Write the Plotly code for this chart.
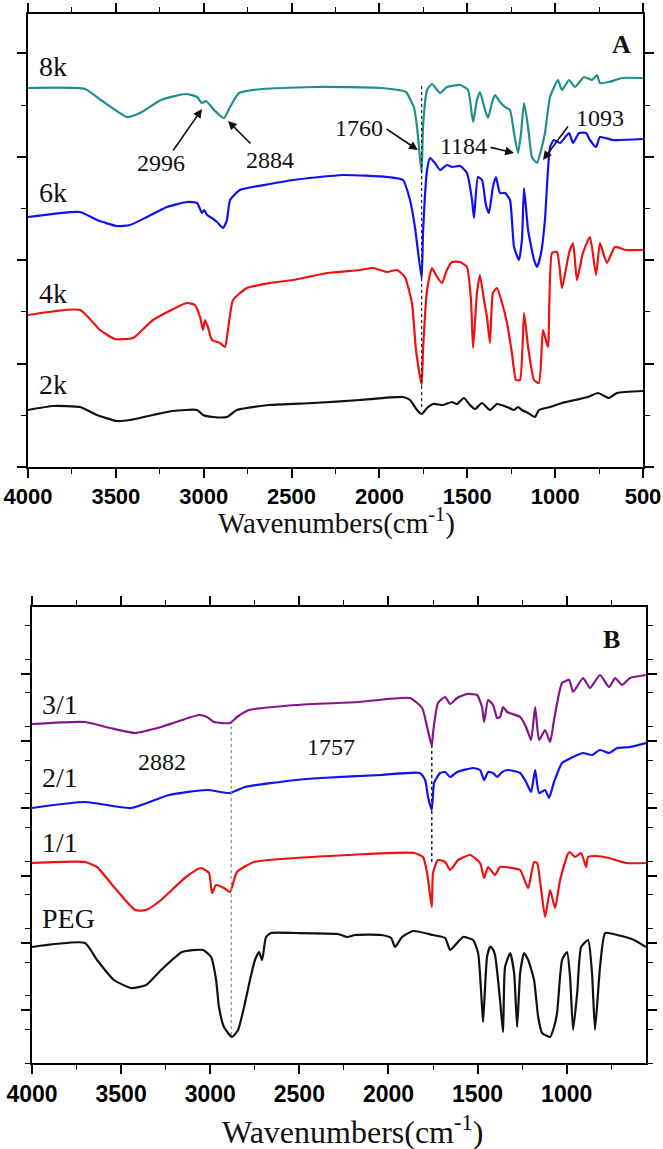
import plotly.graph_objects as go

# ---------------- Panel A (PEG molecular weight series) ----------------
wn_8k = [4000, 3676, 3585, 3437, 3363, 3243, 3101, 3038, 3010, 2987, 2941, 2885, 2850, 2799, 2668,
         2355, 1991, 1849, 1815, 1804, 1786, 1760, 1752, 1729, 1701, 1655, 1616, 1541, 1496, 1467,
         1445, 1428, 1399, 1382, 1360, 1342, 1314, 1285, 1257, 1234, 1211, 1194, 1177, 1154, 1132,
         1103, 1080, 1058, 1029, 984, 961, 921, 887, 836, 790, 762, 745, 694, 620, 500]
t_8k = [379, 378, 367, 350, 354, 367, 373, 370, 364, 366, 357, 349, 360, 374, 378,
        380, 379, 375, 364, 360, 340, 294, 340, 377, 383, 374, 380, 382, 377, 345,
        367, 375, 357, 349, 364, 372, 365, 360, 357, 334, 314, 334, 364, 340, 310,
        304, 317, 334, 370, 387, 377, 387, 380, 390, 387, 392, 384, 385, 389, 389]

wn_6k = [4000, 3704, 3607, 3494, 3420, 3323, 3209, 3095, 3038, 3010, 2998, 2981, 2953, 2924, 2890,
         2868, 2850, 2794, 2623, 2492, 2207, 1957, 1866, 1826, 1798, 1760, 1752, 1729, 1712, 1684,
         1655, 1616, 1587, 1541, 1502, 1473, 1462, 1439, 1416, 1394, 1377, 1354, 1337, 1314, 1285,
         1257, 1234, 1206, 1189, 1177, 1154, 1120, 1103, 1080, 1058, 1029, 1007, 972, 921, 898,
         864, 824, 802, 767, 745, 671, 500]
t_6k = [250, 255, 247, 241, 242, 250, 260, 265, 264, 254, 257, 252, 249, 245, 239,
        247, 267, 277, 283, 287, 292, 290, 287, 267, 240, 189, 234, 297, 309, 304,
        297, 302, 300, 301, 294, 267, 249, 290, 287, 262, 254, 280, 290, 274, 274,
        267, 220, 207, 227, 279, 237, 207, 200, 214, 247, 320, 327, 324, 334, 324,
        334, 334, 327, 320, 330, 327, 328]

wn_4k = [4000, 3704, 3590, 3505, 3402, 3289, 3095, 3050, 3021, 3004, 2993, 2976, 2953, 2907, 2879,
         2862, 2833, 2754, 2623, 2492, 2298, 2111, 2037, 1957, 1900, 1855, 1815, 1792, 1760, 1752,
         1729, 1701, 1672, 1644, 1616, 1587, 1541, 1502, 1479, 1467, 1445, 1428, 1405, 1388, 1371,
         1354, 1331, 1302, 1274, 1246, 1223, 1200, 1177, 1154, 1120, 1092, 1069, 1041, 1018, 989,
         961, 921, 898, 876, 842, 802, 767, 745, 705, 660, 597, 500]
t_4k = [152, 157, 137, 128, 129, 147, 164, 162, 150, 137, 147, 140, 127, 124, 120,
        137, 167, 179, 184, 187, 194, 197, 199, 195, 197, 190, 164, 117, 82, 117,
        177, 199, 190, 184, 197, 205, 205, 200, 167, 119, 174, 192, 167, 150, 124,
        174, 179, 164, 144, 114, 87, 87, 154, 120, 87, 84, 137, 120, 214, 215,
        179, 214, 224, 187, 214, 230, 192, 224, 204, 220, 217, 217]

wn_2k = [4000, 3858, 3704, 3607, 3494, 3420, 3289, 3175, 3038, 3004, 2947, 2868, 2811, 2623, 2378,
         2111, 1866, 1826, 1786, 1760, 1729, 1695, 1638, 1587, 1559, 1519, 1485, 1456, 1416, 1371,
         1331, 1274, 1234, 1211, 1189, 1154, 1115, 1092, 1029, 961, 887, 813, 756, 694, 648, 500]
t_2k = [57, 61, 60, 52, 46, 47, 52, 56, 57, 52, 50, 50, 57, 62, 64,
        67, 70, 67, 57, 53, 59, 63, 62, 65, 63, 69, 62, 58, 64, 57,
        63, 60, 57, 60, 57, 54, 50, 57, 60, 64, 67, 70, 74, 69, 74, 76]

# reference line at the carbonyl band (panel A)
ref_wn_A = [1760, 1760]
ref_t_A = [60, 384]

# ---------------- Panel B (feed ratio series + PEG) ----------------
wn_31 = [4000, 3703, 3562, 3422, 3276, 3063, 3018, 2979, 2889, 2850, 2782, 2518, 2165, 1879, 1811,
         1783, 1757, 1750, 1722, 1682, 1654, 1615, 1559, 1503, 1475, 1463, 1441, 1413, 1390, 1374,
         1357, 1334, 1261, 1228, 1200, 1177, 1155, 1121, 1093, 1071, 1026, 986, 964, 908, 869,
         813, 762, 728, 689, 645, 555]
t_31 = [339, 341, 335, 330, 336, 348, 346, 341, 340, 346, 353, 358, 361, 365, 355,
        336, 317, 330, 360, 366, 359, 365, 369, 368, 356, 341, 363, 358, 345, 346,
        356, 351, 346, 336, 323, 356, 323, 333, 321, 343, 380, 383, 371, 385, 375,
        388, 376, 385, 378, 385, 388]

wn_21 = [4000, 3703, 3444, 3231, 3018, 2889, 2805, 2518, 2378, 2041, 1823, 1794, 1778, 1757, 1744,
         1710, 1682, 1654, 1615, 1525, 1486, 1463, 1441, 1413, 1390, 1362, 1334, 1261, 1228, 1200,
         1177, 1155, 1121, 1099, 1071, 1026, 964, 908, 858, 813, 762, 717, 645, 555]
t_21 = [255, 261, 255, 268, 273, 270, 276, 283, 285, 288, 290, 283, 266, 253, 280,
        290, 291, 286, 291, 295, 293, 283, 291, 290, 286, 291, 293, 290, 281, 271,
        293, 270, 273, 265, 281, 300, 306, 310, 308, 313, 310, 315, 316, 320]

wn_11 = [4000, 3703, 3635, 3540, 3422, 3360, 3276, 3136, 3052, 3007, 2990, 2967, 2923, 2889, 2850,
         2754, 2518, 1856, 1806, 1783, 1757, 1750, 1722, 1682, 1654, 1609, 1542, 1486, 1463, 1441,
         1402, 1374, 1306, 1261, 1216, 1183, 1166, 1143, 1121, 1093, 1065, 1037, 986, 953, 919,
         891, 880, 835, 762, 667, 555]
t_11 = [200, 201, 196, 176, 153, 153, 163, 186, 195, 190, 170, 178, 175, 171, 191,
        201, 205, 210, 206, 190, 156, 190, 203, 201, 193, 203, 208, 200, 185, 196,
        188, 196, 195, 193, 175, 201, 200, 173, 146, 173, 155, 183, 211, 206, 210,
        196, 206, 207, 205, 200, 200]

wn_peg = [4000, 3703, 3635, 3540, 3444, 3360, 3276, 3158, 3040, 2995, 2967, 2951, 2923, 2878, 2844,
          2810, 2777, 2749, 2726, 2709, 2687, 2659, 2518, 2283, 2232, 2187, 2041, 1985, 1963, 1924,
          1862, 1750, 1682, 1654, 1615, 1581, 1525, 1497, 1475, 1469, 1447, 1430, 1419, 1402, 1374,
          1357, 1346, 1317, 1295, 1278, 1261, 1239, 1216, 1183, 1160, 1138, 1093, 1071, 1054, 1026,
          998, 981, 964, 941, 919, 880, 858, 841, 813, 784, 717, 622, 555]
t_peg = [116, 120, 103, 83, 75, 78, 93, 111, 113, 106, 83, 56, 36, 26, 33,
         56, 83, 103, 111, 103, 126, 130, 130, 129, 126, 128, 128, 125, 116, 126,
         132, 128, 125, 113, 120, 126, 123, 110, 56, 41, 106, 116, 115, 108, 63,
         31, 96, 110, 90, 36, 90, 110, 103, 83, 46, 30, 26, 36, 50, 103,
         111, 86, 33, 70, 116, 123, 90, 33, 96, 130, 128, 123, 116]

# reference lines (panel B)
ref_wn_B1 = [2882, 2882]
ref_t_B1 = [28, 340]
ref_wn_B2 = [1757, 1757]
ref_t_B2 = [201, 317]

x_ticks = [4000, 3500, 3000, 2500, 2000, 1500, 1000, 500]

SERIF = "Liberation Serif"
SANS = "Liberation Sans"

fig = go.Figure()

def add_line(x, y, color, xa, ya, width=2.2):
    fig.add_trace(go.Scatter(x=x, y=y, mode="lines", xaxis=xa, yaxis=ya,
                             line=dict(color=color, width=width, shape="spline", smoothing=0.5),
                             hoverinfo="skip", showlegend=False))

add_line(wn_8k, t_8k, "#1f8f8b", "x", "y")
add_line(wn_6k, t_6k, "#1010f5", "x", "y")
add_line(wn_4k, t_4k, "#f01010", "x", "y")
add_line(wn_2k, t_2k, "#111111", "x", "y")
fig.add_trace(go.Scatter(x=ref_wn_A, y=ref_t_A, mode="lines", xaxis="x", yaxis="y",
                         line=dict(color="#222222", width=1.2, dash="dot"), showlegend=False,
                         hoverinfo="skip"))

add_line(wn_31, t_31, "#84168a", "x2", "y2")
add_line(wn_21, t_21, "#1010f5", "x2", "y2")
add_line(wn_11, t_11, "#f01010", "x2", "y2")
add_line(wn_peg, t_peg, "#111111", "x2", "y2")
fig.add_trace(go.Scatter(x=ref_wn_B1, y=ref_t_B1, mode="lines", xaxis="x2", yaxis="y2",
                         line=dict(color="#888888", width=1.2, dash="dot"), showlegend=False,
                         hoverinfo="skip"))
fig.add_trace(go.Scatter(x=ref_wn_B2, y=ref_t_B2, mode="lines", xaxis="x2", yaxis="y2",
                         line=dict(color="#222222", width=1.5, dash="dot"), showlegend=False,
                         hoverinfo="skip"))

axis_common = dict(showline=True, linecolor="black", linewidth=2, mirror="ticks",
                   ticks="outside", tickcolor="black", tickwidth=1.6, ticklen=9,
                   showgrid=False, zeroline=False, automargin=False)

fig.update_layout(
    width=663, height=1149,
    margin=dict(l=0, r=0, t=0, b=0, autoexpand=False),
    paper_bgcolor="white", plot_bgcolor="white",
    xaxis=dict(domain=[28/663, 643/663], anchor="y", range=[4000, 500],
               tickvals=x_ticks, ticktext=[str(v) for v in x_ticks],
               minor=dict(dtick=250, tick0=0, ticks="outside", ticklen=5, tickcolor="black", tickwidth=1.4),
               tickfont=dict(family=SANS, size=22, color="black", weight="bold"),
               **axis_common),
    yaxis=dict(domain=[1 - 467/1149, 1 - 14/1149], anchor="x", range=[0, 453],
               tick0=0, dtick=103.4, showticklabels=False,
               minor=dict(dtick=51.7, ticks="outside", ticklen=5, tickcolor="black", tickwidth=1.4),
               **axis_common),
    xaxis2=dict(domain=[32/663, 646/663], anchor="y2", range=[4000, 555],
                tickvals=x_ticks[:-1], ticktext=[str(v) for v in x_ticks[:-1]],
                minor=dict(dtick=250, tick0=0, ticks="outside", ticklen=5, tickcolor="black", tickwidth=1.4),
                tickfont=dict(family=SANS, size=23, color="black", weight="bold"),
                **axis_common),
    yaxis2=dict(domain=[1 - 1063/1149, 1 - 607/1149], anchor="x2", range=[0, 456],
                tick0=52.9, dtick=67.3, showticklabels=False,
                minor=dict(dtick=33.65, ticks="outside", ticklen=5, tickcolor="black", tickwidth=1.4),
                **axis_common),
)

ann = []
def txt(x, y, s, size, xa="x", ya="y", xanchor="center", bold=False):
    ann.append(dict(x=x, y=y, xref=xa, yref=ya, text=("<b>%s</b>" % s) if bold else s,
                    showarrow=False, xanchor=xanchor, yanchor="middle",
                    font=dict(family=SERIF, size=size, color="#111111")))

def arrow(x0, y0, x1, y1, xa="x", ya="y"):
    ann.append(dict(x=x1, y=y1, ax=x0, ay=y0, xref=xa, yref=ya, axref=xa, ayref=ya,
                    text="", showarrow=True, arrowhead=2, arrowsize=1.1, arrowwidth=1.6,
                    arrowcolor="#111111"))

# Panel A labels
txt(3950, 400, "8k", 28, xanchor="left")
txt(3950, 275, "6k", 28, xanchor="left")
txt(3950, 174, "4k", 28, xanchor="left")
txt(3950, 83, "2k", 28, xanchor="left")
txt(625, 422, "A", 26, bold=True)
txt(3243, 304, "2996", 24)
txt(2623, 307, "2884", 24)
txt(2116, 339, "1760", 24)
txt(1524, 321, "1184", 24)
txt(745, 349, "1093", 24)
arrow(3180, 315, 3010, 358)
arrow(2725, 322, 2862, 346)
arrow(1968, 339, 1781, 317)
arrow(1376, 320, 1234, 314)
arrow(921, 342, 1069, 307)

# Panel B labels
txt(3955, 359, "3/1", 28, "x2", "y2", xanchor="left")
txt(3955, 286, "2/1", 28, "x2", "y2", xanchor="left")
txt(3955, 221, "1/1", 28, "x2", "y2", xanchor="left")
txt(3955, 145, "PEG", 28, "x2", "y2", xanchor="left")
txt(751, 424, "B", 26, "x2", "y2", bold=True)
txt(3270, 301, "2882", 24, "x2", "y2")
txt(2322, 316, "1757", 24, "x2", "y2")

# axis titles
ann.append(dict(x=336/663, y=1 - 521/1149, xref="paper", yref="paper", showarrow=False,
                text="Wavenumbers(cm<sup>-1</sup>)", xanchor="center", yanchor="middle",
                font=dict(family=SERIF, size=29, color="#111111")))
ann.append(dict(x=352/663, y=1 - 1130/1149, xref="paper", yref="paper", showarrow=False,
                text="Wavenumbers(cm<sup>-1</sup>)", xanchor="center", yanchor="middle",
                font=dict(family=SERIF, size=32, color="#111111")))

fig.update_layout(annotations=ann)
fig.write_html("out.html", config={"displayModeBar": False},
               post_script="document.body.style.margin='0px';document.body.style.padding='0px';")
